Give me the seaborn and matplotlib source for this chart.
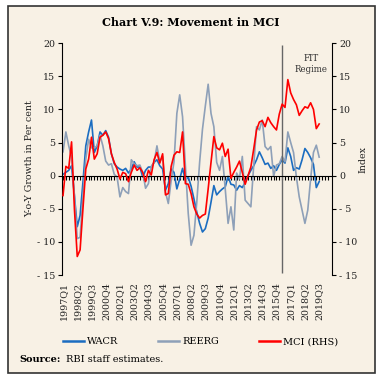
import numpy as np
import pandas as pd
import matplotlib
matplotlib.use("Agg")
import matplotlib.pyplot as plt
import seaborn as sns
from matplotlib.patches import Rectangle
from matplotlib.lines import Line2D

# quarterly series, 1997Q1 .. 2019Q3
wacr = [0.2, 0.5, 0.8, 1.5, -3.0, -7.7, -6.0, -1.0, 4.5, 6.6,
        8.4, 3.5, 4.5, 6.6, 6.1, 6.8, 5.8, 3.3, 1.8, 1.3,
        1.0, 0.8, 1.1, 0.4, 1.0, 2.1, 1.3, 1.3, -0.2, 0.8,
        1.3, 1.3, 2.0, 2.4, 1.5, 1.0, -2.2, -1.2, 1.0, 0.5,
        -2.0, -0.5, 1.1, -0.7, -0.2, -1.6, -3.5, -5.5, -7.2, -8.5,
        -8.0, -6.4, -4.0, -1.5, -2.9, -2.4, -2.0, -1.7, -0.1, -1.3,
        -1.4, -2.2, -1.5, -1.8, -1.0, 0.0, 0.8, 1.5, 2.4, 3.6,
        2.7, 1.7, 1.9, 1.1, 1.5, 0.8, 1.7, 2.4, 1.9, 4.2,
        2.9, 0.8, 1.2, 1.0, 2.4, 4.1, 3.5, 2.7, 1.7, -1.8,
        -0.9]
reerg = [3.6, 6.6, 4.5, 2.8, -3.0, -9.5, -9.3, -3.0, 2.5, 5.5,
         4.2, 4.2, 4.5, 6.1, 4.5, 2.2, 1.6, 1.8, 0.2, -0.2,
         -3.2, -1.8, -2.4, -2.7, 2.4, 1.8, 1.5, 1.6, 0.5, -1.9,
         -1.2, 1.4, 2.0, 4.5, 2.1, 2.9, -2.5, -4.2, -0.7, 2.1,
         9.4, 12.2, 8.9, 1.5, -5.7, -10.5, -9.0, -4.0, 2.0, 7.0,
         10.5, 13.8, 9.4, 7.4, 2.0, 0.8, 2.9, -2.0, -7.2, -4.7,
         -8.2, 0.4, -0.5, 2.9, -3.7, -4.2, -4.7, 1.5, 7.4, 6.9,
         8.4, 4.4, 3.9, 4.4, -0.1, 1.6, 1.8, 2.9, 2.1, 6.6,
         5.0, 3.5, -0.2, -3.2, -5.2, -7.2, -5.2, -0.5, 3.5, 4.6,
         2.8]
mci = [-3.0, 1.4, 1.1, 5.1, -5.0, -12.2, -11.2, -5.0, 1.0, 2.5,
       5.8, 2.5, 3.3, 5.8, 6.1, 6.6, 5.6, 3.3, 2.0, 1.0,
       -0.5, 0.5, 0.3, -0.9, 0.5, 1.6, 0.8, 1.2, 0.5, -0.9,
       0.8, 0.1, 2.4, 3.5, 1.9, 3.3, -2.9, -2.7, 1.4, 3.1,
       3.6, 3.5, 6.6, -1.2, -1.3, -2.7, -4.7, -5.8, -6.4, -6.0,
       -5.8, -2.0, 2.0, 5.9, 4.2, 3.9, 4.9, 2.9, 4.0, -0.4,
       0.5, 1.3, 2.2, 0.5, -1.3, 0.0, 1.3, 4.0, 6.9, 8.1,
       8.3, 7.4, 8.8, 8.0, 7.4, 6.9, 9.3, 10.8, 10.3, 14.5,
       12.5, 11.5, 10.7, 9.1, 9.8, 10.4, 10.2, 11.0, 10.0, 7.1,
       7.8]
quarters = [f"{1997 + k // 4}Q{k % 4 + 1}" for k in range(len(mci))]
tick_labels = ["1997Q1", "1998Q2", "1999Q3", "2000Q4", "2002Q1", "2003Q2",
               "2004Q3", "2005Q4", "2007Q1", "2008Q2", "2009Q3", "2010Q4",
               "2012Q1", "2013Q2", "2014Q3", "2015Q4", "2017Q1", "2018Q2",
               "2019Q3"]
fit_start = "2016Q2"
y_ticks = [20, 15, 10, 5, 0, -5, -10, -15]

df = pd.DataFrame({"quarter": quarters, "WACR": wacr, "REERG": reerg, "MCI": mci})
df["pos"] = np.arange(len(df))

c_blue, c_grey, c_red = "#1b6dc1", "#8ea0b8", "#ff0000"
serif = "DejaVu Serif"
plt.rcParams["font.family"] = serif

fig = plt.figure(figsize=(3.82, 3.82), dpi=100)
fig.patches.append(Rectangle((0.021, 0.024), 0.961, 0.960, transform=fig.transFigure,
                             facecolor="#f8f1e5", edgecolor="#333333", lw=1.2, zorder=-10))

ax = fig.add_axes([0.162, 0.280, 0.707, 0.607])
ax.patch.set_alpha(0)
sns.lineplot(data=df, x="pos", y="WACR", ax=ax, color=c_blue, lw=1.2)
sns.lineplot(data=df, x="pos", y="REERG", ax=ax, color=c_grey, lw=1.2)
fit_pos = quarters.index(fit_start)
ax.vlines(fit_pos, -14.7, 19.7, color="#666666", lw=1.0)

ax2 = ax.twinx()
ax2.patch.set_alpha(0)
sns.lineplot(data=df, x="pos", y="MCI", ax=ax2, color=c_red, lw=1.2)

for a in (ax, ax2):
    a.set_ylim(-15, 20)
    a.set_xlim(-0.4, 94.5)
    a.set_yticks(y_ticks)
    a.set_yticklabels([str(v) if v >= 0 else "- " + str(-v) for v in y_ticks],
                      fontsize=6.8, color="#222222")
    a.spines["top"].set_visible(False)
    a.set_xlabel("")

ax.spines["right"].set_visible(False)
ax2.spines["left"].set_visible(False)
ax2.spines["bottom"].set_visible(False)
ax.spines["bottom"].set_position(("data", 0))
ax.set_xticks(np.arange(0, 94))
ax.tick_params(axis="x", length=3, width=0.8, direction="out", labelbottom=False)
ax.tick_params(axis="y", length=3, width=0.8, pad=2)
ax2.tick_params(axis="y", length=3, width=0.8, pad=2)
ax2.tick_params(axis="x", length=0, labelbottom=False)

sec = ax.secondary_xaxis("bottom")
sec.set_xticks([quarters.index(q) for q in tick_labels])
sec.set_xticklabels(tick_labels, rotation=90, fontsize=6.8, color="#222222")
sec.tick_params(length=0, pad=5)
sec.spines["bottom"].set_visible(False)

ax.set_ylabel("Y-o-Y Growth in Per cent", fontsize=6.8, labelpad=2, color="#222222")
ax2.set_ylabel("Index", fontsize=6.8, labelpad=1, color="#222222")

ax.text(87.2, 16.9, "FIT\nRegime", ha="center", va="center", fontsize=6.2,
        linespacing=1.3, color="#333333")

fig.text(0.5, 0.942, "Chart V.9: Movement in MCI", ha="center", va="center",
         fontsize=8, fontweight="bold")

handles = [Line2D([], [], color=c, lw=1.8) for c in (c_blue, c_grey, c_red)]
fig.legend(handles, ["WACR", "REERG", "MCI (RHS)"], loc="center",
           bbox_to_anchor=(0.525, 0.105), ncol=3, frameon=False, fontsize=7,
           handlelength=2.2, handletextpad=0.3, columnspacing=4.1)

fig.text(0.05, 0.058, "Source:", fontsize=7, fontweight="bold", va="center")
fig.text(0.172, 0.058, "RBI staff estimates.", fontsize=7, va="center")

fig.savefig("out.png", dpi=100, facecolor="white")
